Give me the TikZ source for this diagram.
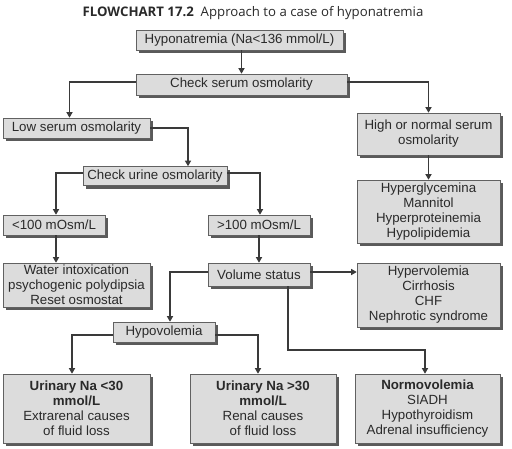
\documentclass[tikz,border=0pt]{standalone}
\usepackage{fontspec}
\setmainfont{Liberation Sans}
\newfontfamily\titlefont{Open Sans}
\usetikzlibrary{arrows.meta,shadows}
\definecolor{boxfill}{HTML}{DCDCDC}
\definecolor{linec}{HTML}{3A3A3A}
\definecolor{txtc}{HTML}{2A2A2A}
\definecolor{shadowc}{HTML}{5A5A5A}
\tikzset{
  fbox/.style={draw=linec!80, line width=0.6pt, fill=boxfill, text=txtc,
    inner sep=1pt, align=center, font=\fontsize{13.3}{15}\selectfont,
    drop shadow={shadow xshift=3pt, shadow yshift=-3pt, fill=shadowc, opacity=1}},
  arr/.style={draw=linec, line width=1.2pt, -{Triangle[length=5.5pt,width=6pt]}}
}
\begin{document}
\begin{tikzpicture}[x=1pt,y=-1pt]
\useasboundingbox[fill=white] (0,0) rectangle (512,448);
\node[text=txtc, font=\titlefont\fontsize{13.2}{15}\selectfont] (title) at (253,13)
  {\textbf{FLOWCHART 17.2}\ \ Approach to a case of hyponatremia};
\node[fbox, minimum width=207, minimum height=20] (hypo) at (239.5,40) {Hyponatremia (Na<136 mmol/L)};
\node[fbox, minimum width=211, minimum height=21] (check) at (241.5,84.5) {Check serum osmolarity};
\node[fbox, minimum width=147, minimum height=20] (low) at (76.5,128) {Low serum osmolarity};
\node[fbox, minimum width=143, minimum height=42] (high) at (428.5,134) {High or normal serum\\osmolarity};
\node[fbox, minimum width=144, minimum height=19] (urine) at (155,176) {Check urine osmolarity};
\node[fbox, minimum width=102, minimum height=20] (lt) at (54,225) {<100 mOsm/L};
\node[fbox, minimum width=102, minimum height=20] (gt) at (259,225) {>100 mOsm/L};
\node[fbox, minimum width=143, minimum height=63] (hyperg) at (428.5,211.5) {Hyperglycemina\\Mannitol\\Hyperproteinemia\\Hypolipidemia};
\node[fbox, minimum width=147, minimum height=44] (water) at (76.5,285) {Water intoxication\\psychogenic polydipsia\\Reset osmostat};
\node[fbox, minimum width=102, minimum height=23] (vol) at (259,274.5) {Volume status};
\node[fbox, minimum width=143, minimum height=64] (hyperv) at (428.5,295) {Hypervolemia\\Cirrhosis\\CHF\\Nephrotic syndrome};
\node[fbox, minimum width=102, minimum height=20] (hypov) at (164,332) {Hypovolemia};
\node[fbox, minimum width=147, minimum height=69] (una) at (76.5,408.5) {\textbf{Urinary Na <30}\\\textbf{mmol/L}\\Extrarenal causes\\of fluid loss};
\node[fbox, minimum width=146, minimum height=69] (unb) at (263,408.5) {\textbf{Urinary Na >30}\\\textbf{mmol/L}\\Renal causes\\of fluid loss};
\node[fbox, minimum width=145, minimum height=69] (normo) at (427.5,408.5) {\textbf{Normovolemia}\\SIADH\\Hypothyroidism\\Adrenal insufficiency};
% connectors
\draw[arr] (hypo.south -| check.north) -- (check.north);
\draw[arr] ([yshift=2.5]check.west) -| ([xshift=-7]low.north);
\draw[arr] ([yshift=2.5]check.east) -| (high.north);
\draw[arr] (low.east) -| ([xshift=33]urine.north);
\draw[arr] ([yshift=3]urine.west) -| ([xshift=2]lt.north);
\draw[arr] ([yshift=3]urine.east) -| ([xshift=1]gt.north);
\draw[arr] (high.south) -- (hyperg.north);
\draw[arr] ([xshift=2]lt.south) -- ([xshift=2]lt.south |- water.north);
\draw[arr] (gt.south) -- (vol.north);
\draw[arr] ([yshift=2.5]vol.east) -- ([yshift=2.5]vol.east -| hyperv.west);
\draw[arr] ([yshift=2.5]vol.west) -| ([xshift=6]hypov.north);
\coordinate (turn) at ([xshift=29]vol.south |- 0,350);
\draw[arr] ([xshift=29]vol.south) -- (turn) -| ([xshift=-2.5]normo.north);
\draw[arr] ([yshift=-3]hypov.west) -| ([xshift=-4.5]una.north);
\draw[arr] ([yshift=-3]hypov.east) -| ([xshift=-5]unb.north);
\end{tikzpicture}
\end{document}
